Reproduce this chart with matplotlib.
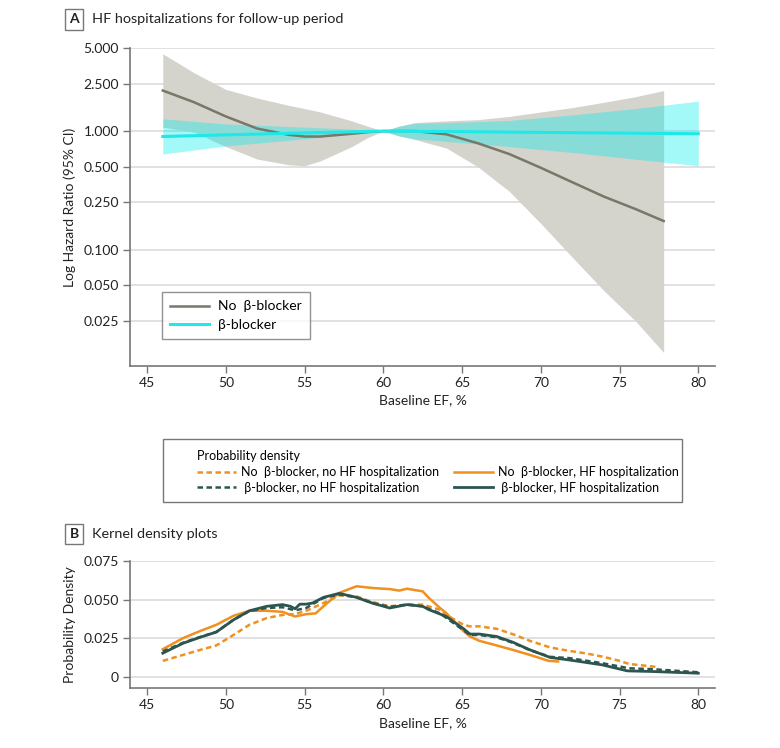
import numpy as np
import matplotlib.pyplot as plt
from matplotlib.lines import Line2D
from matplotlib.patches import Rectangle

plt.rcParams['font.family'] = ['Lato', 'DejaVu Sans']

# panel A: spline hazard ratios (No beta-blocker)
ef_nb = [46, 48, 50, 52, 54, 55, 56, 58, 59, 60, 61, 62, 64, 66, 68, 70, 72, 74, 76, 77.8]
hr_nb = [2.2, 1.75, 1.33, 1.05, 0.93, 0.90, 0.90, 0.95, 0.98, 1.0, 1.0, 1.0, 0.94, 0.79, 0.64, 0.49, 0.37, 0.28, 0.22, 0.174]
hi_nb = [4.5, 3.1, 2.25, 1.9, 1.65, 1.55, 1.45, 1.22, 1.1, 1.0, 1.1, 1.18, 1.22, 1.25, 1.33, 1.45, 1.58, 1.75, 1.95, 2.2]
lo_nb = [1.08, 0.98, 0.74, 0.58, 0.52, 0.51, 0.56, 0.74, 0.88, 1.0, 0.91, 0.85, 0.72, 0.5, 0.31, 0.166, 0.086, 0.045, 0.025, 0.0135]

# panel A: beta-blocker
ef_b = [46, 50, 55, 58, 60, 61, 62, 65, 68, 72, 76, 80]
hr_b = [0.90, 0.93, 0.965, 0.985, 1.0, 0.998, 0.995, 0.99, 0.98, 0.97, 0.96, 0.95]
hi_b = [1.27, 1.15, 1.08, 1.04, 1.0, 1.10, 1.16, 1.19, 1.23, 1.37, 1.55, 1.79]
lo_b = [0.64, 0.75, 0.86, 0.94, 1.0, 0.91, 0.86, 0.80, 0.74, 0.66, 0.58, 0.51]

yticks_a = [0.025, 0.05, 0.1, 0.25, 0.5, 1, 2.5, 5]
ytick_labels_a = ['0.025', '0.050', '0.100', '0.250', '0.500', '1.000', '2.500', '5.000']
xticks = [45, 50, 55, 60, 65, 70, 75, 80]

# panel B: kernel densities
x_nb_hf = [46.0, 47.3, 48.4, 49.4, 50.5, 51.5, 52.6, 53.6, 54.4, 55.1, 55.7, 56.2, 57.2, 58.3, 59.3, 60.0,
           60.4, 61.0, 61.5, 62.5, 62.9, 63.6, 64.0, 65.0, 65.5, 66.1, 67.2, 68.2, 69.3, 70.5, 71.1]
y_nb_hf = [0.0178, 0.025, 0.0297, 0.0336, 0.0395, 0.0427, 0.0427, 0.042, 0.039, 0.0405, 0.041, 0.0456, 0.0543,
           0.0586, 0.0575, 0.057, 0.0568, 0.0558, 0.057, 0.0553, 0.051, 0.0445, 0.0412, 0.0304, 0.026, 0.0232,
           0.0202, 0.0174, 0.0141, 0.0102, 0.0098]

x_b_hf = [46.0, 47.3, 48.4, 49.4, 50.5, 51.5, 52.6, 53.6, 54.1, 54.4, 54.7, 55.1, 55.5, 56.2, 57.2, 58.3, 59.3,
          60.4, 61.5, 62.5, 62.9, 64.0, 65.1, 65.5, 66.1, 67.2, 68.2, 69.3, 70.6, 71.8, 73.9, 75.5, 77.1, 80.0]
y_b_hf = [0.0152, 0.0217, 0.0256, 0.0289, 0.0369, 0.0427, 0.0456, 0.0467, 0.0456, 0.044, 0.047, 0.047, 0.0477,
          0.0514, 0.054, 0.0514, 0.0477, 0.0445, 0.0467, 0.0456, 0.0434, 0.039, 0.031, 0.0276, 0.0276, 0.026,
          0.0224, 0.0174, 0.0124, 0.0108, 0.0076, 0.0037, 0.0033, 0.0022]

x_b_nohf = [46.0, 47.3, 48.4, 49.4, 50.5, 51.5, 52.6, 53.6, 54.4, 55.1, 56.2, 57.2, 58.3, 59.3, 60.4, 61.5, 62.5,
            63.6, 65.1, 65.5, 66.1, 67.2, 68.2, 69.3, 70.6, 71.8, 73.9, 75.6, 77.1, 80.0]
y_b_nohf = [0.0163, 0.022, 0.0258, 0.029, 0.0369, 0.0425, 0.0445, 0.045, 0.043, 0.0445, 0.051, 0.0533, 0.0514,
            0.0477, 0.0452, 0.0467, 0.0456, 0.041, 0.030, 0.027, 0.027, 0.0255, 0.022, 0.0172, 0.0128, 0.012,
            0.0087, 0.0054, 0.0048, 0.0028]

x_nb_nohf = [46.0, 47.3, 48.4, 49.4, 50.5, 51.5, 52.6, 53.6, 54.4, 55.1, 56.2, 57.2, 58.3, 59.3, 60.4, 61.5, 62.5,
             63.6, 64.0, 65.1, 65.5, 66.1, 67.2, 68.2, 69.3, 70.6, 71.8, 72.9, 73.9, 75.0, 75.6, 77.5]
y_nb_nohf = [0.0102, 0.0141, 0.0174, 0.0202, 0.0271, 0.0336, 0.038, 0.040, 0.0406, 0.0427, 0.0477, 0.0527, 0.052,
             0.0484, 0.0456, 0.0467, 0.0467, 0.0434, 0.040, 0.0336, 0.0326, 0.0326, 0.031, 0.0276, 0.0232, 0.0189,
             0.0167, 0.015, 0.013, 0.0102, 0.0082, 0.0061]

yticks_b = [0, 0.025, 0.05, 0.075]
ytick_labels_b = ['0', '0.025', '0.050', '0.075']

gray_line = '#787768'
gray_band = '#d4d3cc'
cyan = '#1fe8e8'
orange = '#f0901e'
green = '#2d5550'
axis_col = '#777777'
grid_col = '#dedede'
txt = '#222222'
fs = 10


def style_axes(ax):
    for s in ['top', 'right']:
        ax.spines[s].set_visible(False)
    for s in ['left', 'bottom']:
        ax.spines[s].set_color(axis_col)
        ax.spines[s].set_linewidth(1.2)
    ax.tick_params(colors=axis_col, labelcolor=txt, labelsize=fs, length=5, width=1, pad=3)
    ax.yaxis.grid(True, color=grid_col, linewidth=1.3)
    ax.set_axisbelow(True)
    ax.set_xticks(xticks)
    ax.set_xlim(43.92, 81.06)
    ax.set_xlabel('Baseline EF, %', fontsize=fs, color=txt, labelpad=4)


fig = plt.figure(figsize=(7.8, 7.48), dpi=100)
ax1 = fig.add_axes([0.1667, 0.5111, 0.75, 0.4243])
ax2 = fig.add_axes([0.1667, 0.0798, 0.75, 0.1702])

# panel A
ax1.set_yscale('log')
ax1.fill_between(ef_nb, lo_nb, hi_nb, color=gray_band, linewidth=0, zorder=1)
ax1.fill_between(ef_b, lo_b, hi_b, color='#00eeee', alpha=0.36, linewidth=0, zorder=2)
ax1.plot(ef_nb, hr_nb, color=gray_line, lw=1.8, zorder=3)
ax1.plot(ef_b, hr_b, color=cyan, lw=2.2, zorder=4)
style_axes(ax1)
ax1.set_ylim(0.01045, 5.0)
ax1.set_yticks(yticks_a)
ax1.set_yticklabels(ytick_labels_a)
ax1.yaxis.set_minor_locator(plt.NullLocator())
ax1.set_ylabel('Log Hazard Ratio (95% CI)', fontsize=fs, color=txt, labelpad=5)

leg_a = ax1.legend([Line2D([], [], color=gray_line, lw=1.8), Line2D([], [], color=cyan, lw=2.2)],
                   ['No  β-blocker', 'β-blocker'], loc='lower left', bbox_to_anchor=(0.0547, 0.084),
                   fontsize=fs, fancybox=False, edgecolor=axis_col, handlelength=2.8,
                   borderpad=0.6, labelspacing=0.45, borderaxespad=0, handletextpad=0.6)
leg_a.get_frame().set_linewidth(1.0)

# panel B
ax2.plot(x_nb_nohf, y_nb_nohf, color=orange, lw=1.8, ls=(0, (2.2, 1.4)), zorder=3)
ax2.plot(x_nb_hf, y_nb_hf, color=orange, lw=1.8, zorder=3)
ax2.plot(x_b_nohf, y_b_nohf, color=green, lw=1.8, ls=(0, (2.2, 1.4)), zorder=4)
ax2.plot(x_b_hf, y_b_hf, color=green, lw=2.0, zorder=4)
style_axes(ax2)
ax2.set_ylim(-0.0076, 0.075)
ax2.set_yticks(yticks_b)
ax2.set_yticklabels(ytick_labels_b)
ax2.set_ylabel('Probability Density', fontsize=fs, color=txt, labelpad=5)

handles_b = [Line2D([], [], color=orange, lw=1.8, ls=(0, (2.2, 1.4))),
             Line2D([], [], color=green, lw=1.8, ls=(0, (2.2, 1.4))),
             Line2D([], [], color=orange, lw=1.8),
             Line2D([], [], color=green, lw=2.0)]
labels_b = ['No  β-blocker, no HF hospitalization', ' β-blocker, no HF hospitalization',
            'No  β-blocker, HF hospitalization', ' β-blocker, HF hospitalization']
leg_b = fig.legend(handles_b, labels_b, ncol=2, loc='upper left', bbox_to_anchor=(191 / 780, 1 - 444 / 748),
                   title='Probability density', title_fontsize=9.0, fontsize=9.0, alignment='left',
                   frameon=False, handlelength=3.1, columnspacing=1.2,
                   borderpad=0, labelspacing=0.3, handletextpad=0.4)
fig.patches.append(Rectangle((163 / 780, 1 - 502 / 748), (682 - 163) / 780, 63 / 748,
                             transform=fig.transFigure, fill=False, ec=axis_col, lw=1.0))

# panel headings
for lab, title, y in [('A', 'HF hospitalizations for follow-up period', 0.974),
                      ('B', 'Kernel density plots', 0.286)]:
    fig.text(0.095, y, lab, fontsize=10, fontweight='bold', color=txt, ha='center', va='center',
             bbox=dict(boxstyle='square,pad=0.3', fc='white', ec=axis_col, lw=1.0))
    fig.text(0.118, y, title, fontsize=10.4, color=txt, ha='left', va='center')

fig.savefig('out.png', dpi=100)
